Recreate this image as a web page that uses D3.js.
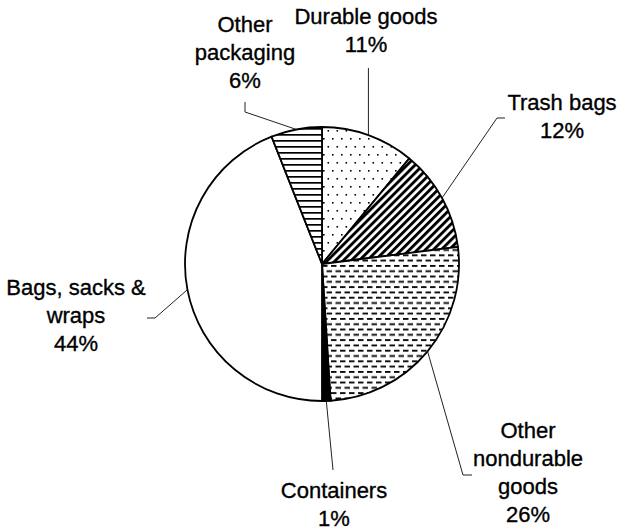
<!DOCTYPE html>
<html>
<head>
<meta charset="utf-8">
<script src="https://cdn.jsdelivr.net/npm/d3@7"></script>
<style>
  html, body { margin: 0; padding: 0; background: #fff; }
  svg { display: block; }
  text { font-family: "Liberation Sans", Arial, Helvetica, sans-serif; font-size: 22px; fill: #000; stroke: #000; stroke-width: 0.35px; }
</style>
</head>
<body>
<svg id="chart" width="617" height="530"></svg>
<script>
// ---- data ----
const categories = ["Durable goods", "Trash bags", "Other nondurable goods", "Containers", "Bags, sacks & wraps", "Other packaging"];
const values = [11, 12, 26, 1, 44, 6];
const labelLines = [
  ["Durable goods", "11%"],
  ["Trash bags", "12%"],
  ["Other", "nondurable", "goods", "26%"],
  ["Containers", "1%"],
  ["Bags, sacks &", "wraps", "44%"],
  ["Other", "packaging", "6%"]
];

// ---- layout (not data) ----
const W = 617, H = 530;
const cx = 322, cy = 264, R = 137;
const lineStep = 28;
const fills = ["url(#dots)", "url(#diag)", "url(#dash)", "#000", "#fff", "url(#hlines)"];
// label anchor (center x, first baseline y) and leader elbow points
const labelPos = [
  {x: 366, y: 24,  leader: [[null, 68]]},
  {x: 562, y: 110, leader: [[497, 118], [505, 118]]},
  {x: 528, y: 438, leader: [[463, 475], [472, 475]]},
  {x: 334, y: 498, leader: [[333, 470]]},
  {x: 76,  y: 295, leader: [[155, 318], [147, 318]]},
  {x: 245, y: 32,  leader: [[245, 112], [245, 102]]}
];

const svg = d3.select("#chart");
const defs = svg.append("defs");

// dotted pattern
const pDots = defs.append("pattern").attr("id", "dots").attr("patternUnits", "userSpaceOnUse")
  .attr("width", 9).attr("height", 16);
pDots.append("rect").attr("width", 9).attr("height", 16).attr("fill", "#fff");
pDots.append("rect").attr("x", 1).attr("y", 2).attr("width", 1.6).attr("height", 1.6).attr("fill", "#000");
pDots.append("rect").attr("x", 5.5).attr("y", 10).attr("width", 1.6).attr("height", 1.6).attr("fill", "#000");

// diagonal stripes "/"
const pDiag = defs.append("pattern").attr("id", "diag").attr("patternUnits", "userSpaceOnUse")
  .attr("width", 5.6).attr("height", 5.6).attr("patternTransform", "rotate(45)");
pDiag.append("rect").attr("width", 5.6).attr("height", 5.6).attr("fill", "#fff");
pDiag.append("rect").attr("x", 0).attr("y", 0).attr("width", 2.9).attr("height", 5.6).attr("fill", "#000");

// dashed horizontal lines
const pDash = defs.append("pattern").attr("id", "dash").attr("patternUnits", "userSpaceOnUse")
  .attr("width", 9).attr("height", 10.6);
pDash.append("rect").attr("width", 9).attr("height", 10.6).attr("fill", "#fff");
pDash.append("rect").attr("x", 0).attr("y", 1).attr("width", 5.5).attr("height", 1.8).attr("fill", "#000");
pDash.append("rect").attr("x", 4.5).attr("y", 6.3).attr("width", 4.5).attr("height", 1.8).attr("fill", "#000");
pDash.append("rect").attr("x", 0).attr("y", 6.3).attr("width", 1).attr("height", 1.8).attr("fill", "#000");

// horizontal lines
const pH = defs.append("pattern").attr("id", "hlines").attr("patternUnits", "userSpaceOnUse")
  .attr("width", 8).attr("height", 6);
pH.append("rect").attr("width", 8).attr("height", 6).attr("fill", "#fff");
pH.append("rect").attr("x", 0).attr("y", 2).attr("width", 8).attr("height", 1.7).attr("fill", "#000");

const pie = d3.pie().sort(null).value(d => d).startAngle(0).endAngle(2 * Math.PI);
const arcs = pie(values);
const arc = d3.arc().innerRadius(0).outerRadius(R);

const g = svg.append("g").attr("transform", `translate(${cx},${cy})`);
g.selectAll("path.slice").data(arcs).enter().append("path")
  .attr("class", "slice")
  .attr("d", arc)
  .attr("fill", (d, i) => fills[i])
  .attr("stroke", "#000")
  .attr("stroke-width", 1.8)
  .attr("stroke-linejoin", "round");

// leader lines
arcs.forEach((d, i) => {
  const a = (d.startAngle + d.endAngle) / 2;
  const ex = cx + R * Math.sin(a), ey = cy - R * Math.cos(a);
  const pts = [[ex, ey]].concat(labelPos[i].leader.map(p => [p[0] === null ? ex : p[0], p[1]]));
  svg.append("path")
    .attr("d", d3.line()(pts))
    .attr("fill", "none")
    .attr("stroke", "#222")
    .attr("stroke-width", 1);
});

// labels
labelLines.forEach((lines, i) => {
  const t = svg.append("text").attr("text-anchor", "middle");
  lines.forEach((ln, j) => {
    t.append("tspan").attr("x", labelPos[i].x).attr("y", labelPos[i].y + j * lineStep).text(ln);
  });
});
</script>
</body>
</html>
